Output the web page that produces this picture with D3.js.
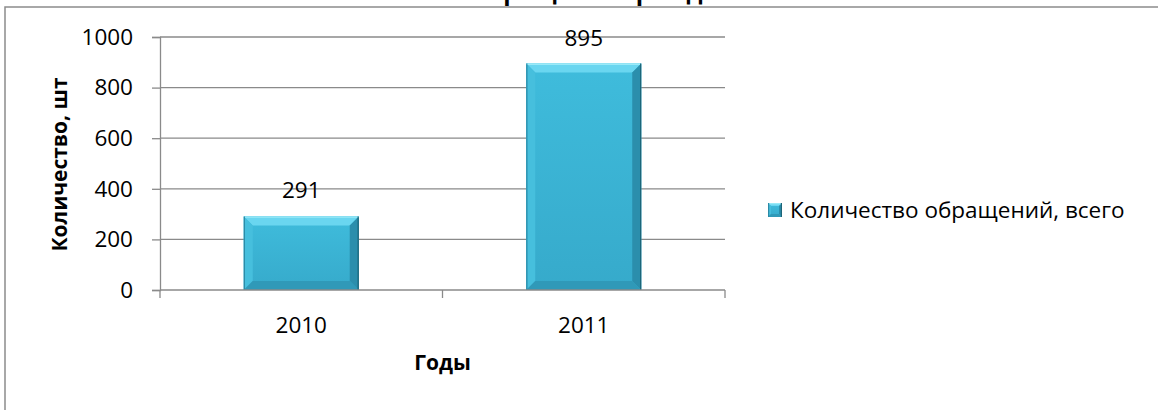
<!DOCTYPE html>
<html>
<head>
<meta charset="utf-8">
<script src="https://cdn.jsdelivr.net/npm/d3@7"></script>
<style>
  body { margin: 0; background: #fff; }
  svg text { font-family: "Open Sans", "Noto Sans", sans-serif; fill: #000; }
</style>
</head>
<body>
<svg id="chart" width="1158" height="410"></svg>
<script>
const years = ['2010', '2011']
const counts = [291, 895]
const yTicks = [0, 200, 400, 600, 800, 1000]
const seriesName = 'Количество обращений, всего'
const chartTitle = 'Обращения граждан'
const yTitle = 'Количество, шт'
const xTitle = 'Годы'

const svg = d3.select('#chart')
const fs = 22.5

// --- frame and title (title sits above the frame, mostly outside the picture)
svg.append('rect')
    .attr('x', 5).attr('y', 7).attr('width', 1170).attr('height', 420)
    .attr('fill', 'none').attr('stroke', '#8c8c8c').attr('stroke-width', 1.5)

svg.append('text')
    .attr('x', 601).attr('y', 0)
    .attr('text-anchor', 'middle')
    .style('font-size', '24px').style('font-weight', 'bold')
    .text(chartTitle)

// --- scales
const plot = {left: 160, right: 725, top: 37, bottom: 290}
const y = d3.scaleLinear().domain([0, 1000]).range([plot.bottom, plot.top])
const xCat = d3.scaleBand().domain(years).range([plot.left, plot.right])
const x = d3.scaleBand().domain(years).range([plot.left, plot.right])
    .paddingInner(0.593).paddingOuter(0.2965)

const grid = '#8a8a8a'

// gridlines
svg.append('g').selectAll('line').data(yTicks.filter(d => d > 0)).join('line')
    .attr('x1', plot.left).attr('x2', plot.right)
    .attr('y1', d => y(d)).attr('y2', d => y(d))
    .attr('stroke', grid).attr('stroke-width', 1.3)

// y axis
const yAxis = svg.append('g')
    .attr('transform', `translate(${plot.left},0)`)
    .call(d3.axisLeft(y).tickValues(yTicks).tickFormat(d3.format('d')).tickSize(8).tickPadding(19))
yAxis.select('.domain').attr('stroke', grid).attr('stroke-width', 1.3)
yAxis.selectAll('.tick line').attr('stroke', grid).attr('stroke-width', 1.3)
yAxis.selectAll('.tick text')
    .style('font-size', fs + 'px').style('font-family', '"Open Sans", sans-serif')
    .attr('fill', '#000')

// --- bars with bevel
const defs = svg.append('defs')
const grad = defs.append('linearGradient').attr('id', 'barFill')
    .attr('x1', 0).attr('x2', 0).attr('y1', 0).attr('y2', 1)
grad.append('stop').attr('offset', '0%').attr('stop-color', '#3fbcdc')
grad.append('stop').attr('offset', '100%').attr('stop-color', '#36aacb')

function drawBevelBox(g, x0, y0, w, h, b) {
    const x1 = x0 + w, y1 = y0 + h
    g.append('rect').attr('x', x0).attr('y', y0).attr('width', w).attr('height', h)
        .attr('fill', 'url(#barFill)')
    const poly = (pts, c) => g.append('polygon')
        .attr('points', pts.map(p => p.join(',')).join(' ')).attr('fill', c)
    poly([[x0, y0], [x1, y0], [x1 - b, y0 + b], [x0 + b, y0 + b]], '#6ad6f0')
    poly([[x0, y0], [x0 + b, y0 + b], [x0 + b, y1 - b], [x0, y1]], '#46bfdd')
    poly([[x1, y0], [x1, y1], [x1 - b, y1 - b], [x1 - b, y0 + b]], '#2b8eac')
    poly([[x0, y1], [x0 + b, y1 - b], [x1 - b, y1 - b], [x1, y1]], '#3099b8')
    g.append('line').attr('x1', x0).attr('x2', x1).attr('y1', y0 + 0.7).attr('y2', y0 + 0.7)
        .attr('stroke', '#9aeaf8').attr('stroke-width', 1.4)
    g.append('line').attr('x1', x1 - 0.6).attr('x2', x1 - 0.6).attr('y1', y0).attr('y2', y1)
        .attr('stroke', '#1d6578').attr('stroke-width', 1.2)
    g.append('line').attr('x1', x0 + 0.6).attr('x2', x0 + 0.6).attr('y1', y0).attr('y2', y1)
        .attr('stroke', '#2b8aa6').attr('stroke-width', 1.2)
}

const bars = svg.append('g')
years.forEach((yr, i) => {
    const g = bars.append('g')
    drawBevelBox(g, x(yr), y(counts[i]), x.bandwidth(), y(0) - y(counts[i]), 9)
})

// value labels
svg.append('g').selectAll('text').data(years).join('text')
    .attr('x', d => x(d) + x.bandwidth() / 2)
    .attr('y', (d, i) => y(counts[i]) - 18)
    .attr('text-anchor', 'middle')
    .style('font-size', fs + 'px')
    .text((d, i) => counts[i])

// x axis (ticks on category boundaries)
const xg = svg.append('g')
xg.append('line')
    .attr('x1', plot.left).attr('x2', plot.right)
    .attr('y1', y(0)).attr('y2', y(0))
    .attr('stroke', grid).attr('stroke-width', 1.5)
const bounds = years.map(d => xCat(d)).concat([xCat.range()[1]])
xg.selectAll('line.tk').data(bounds).join('line').attr('class', 'tk')
    .attr('x1', d => d).attr('x2', d => d)
    .attr('y1', y(0)).attr('y2', y(0) + 8)
    .attr('stroke', grid).attr('stroke-width', 1.3)
xg.selectAll('text').data(years).join('text')
    .attr('x', d => xCat(d) + xCat.bandwidth() / 2)
    .attr('y', y(0) + 43)
    .attr('text-anchor', 'middle')
    .style('font-size', fs + 'px')
    .text(d => d)

// axis titles
svg.append('text')
    .attr('transform', `translate(67,${(plot.top + plot.bottom) / 2 + 1}) rotate(-90)`)
    .attr('text-anchor', 'middle')
    .style('font-size', '21px').style('font-weight', 'bold')
    .text(yTitle)

svg.append('text')
    .attr('x', xCat.range()[0] + (xCat.range()[1] - xCat.range()[0]) / 2)
    .attr('y', 370)
    .attr('text-anchor', 'middle')
    .style('font-size', '21px').style('font-weight', 'bold')
    .text(xTitle)

// legend
const lg = svg.append('g').attr('transform', 'translate(768,203)')
drawBevelBox(lg, 0, 0, 14, 14, 3)
lg.append('text')
    .attr('x', 22).attr('y', 15)
    .style('font-size', fs + 'px')
    .text(seriesName)
</script>
</body>
</html>
